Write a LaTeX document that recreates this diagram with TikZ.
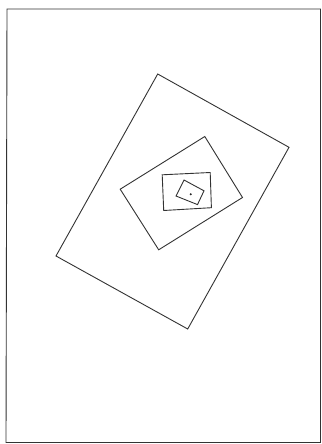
\documentclass[tikz,border=0pt]{standalone}
\begin{document}
\begin{tikzpicture}[x=1pt,y=-1pt,
  frame/.style={draw=black!80,line width=0.9pt,line join=miter},
  box/.style={draw=black!80,line width=0.9pt,line join=miter}]
\useasboundingbox (0,0) rectangle (321,444);
\fill[white] (0,0) rectangle (321,444);
% outer frame
\draw[frame] (7,9) -- (320.5,9) -- (320.5,442.5) -- (6,442.5) -- cycle;
% large rotated rectangle
\draw[box] (157.7,74) -- (289,147.3) -- (187.7,329) -- (56,256) -- cycle;
% medium rotated rectangle
\draw[box] (204.8,136.5) -- (242.5,197.5) -- (158.7,249.8) -- (120.2,189.2) -- cycle;
% small rectangle
\draw[box] (162.2,174.8) -- (210.2,172.5) -- (211.4,207.7) -- (163.7,210.5) -- cycle;
% tiny rotated rectangle
\draw[box] (184,180) -- (204,190.8) -- (197.5,204.6) -- (176,196) -- cycle;
% centre dot
\fill[black!85] (190.7,194.2) circle (1.1);
\end{tikzpicture}
\end{document}
